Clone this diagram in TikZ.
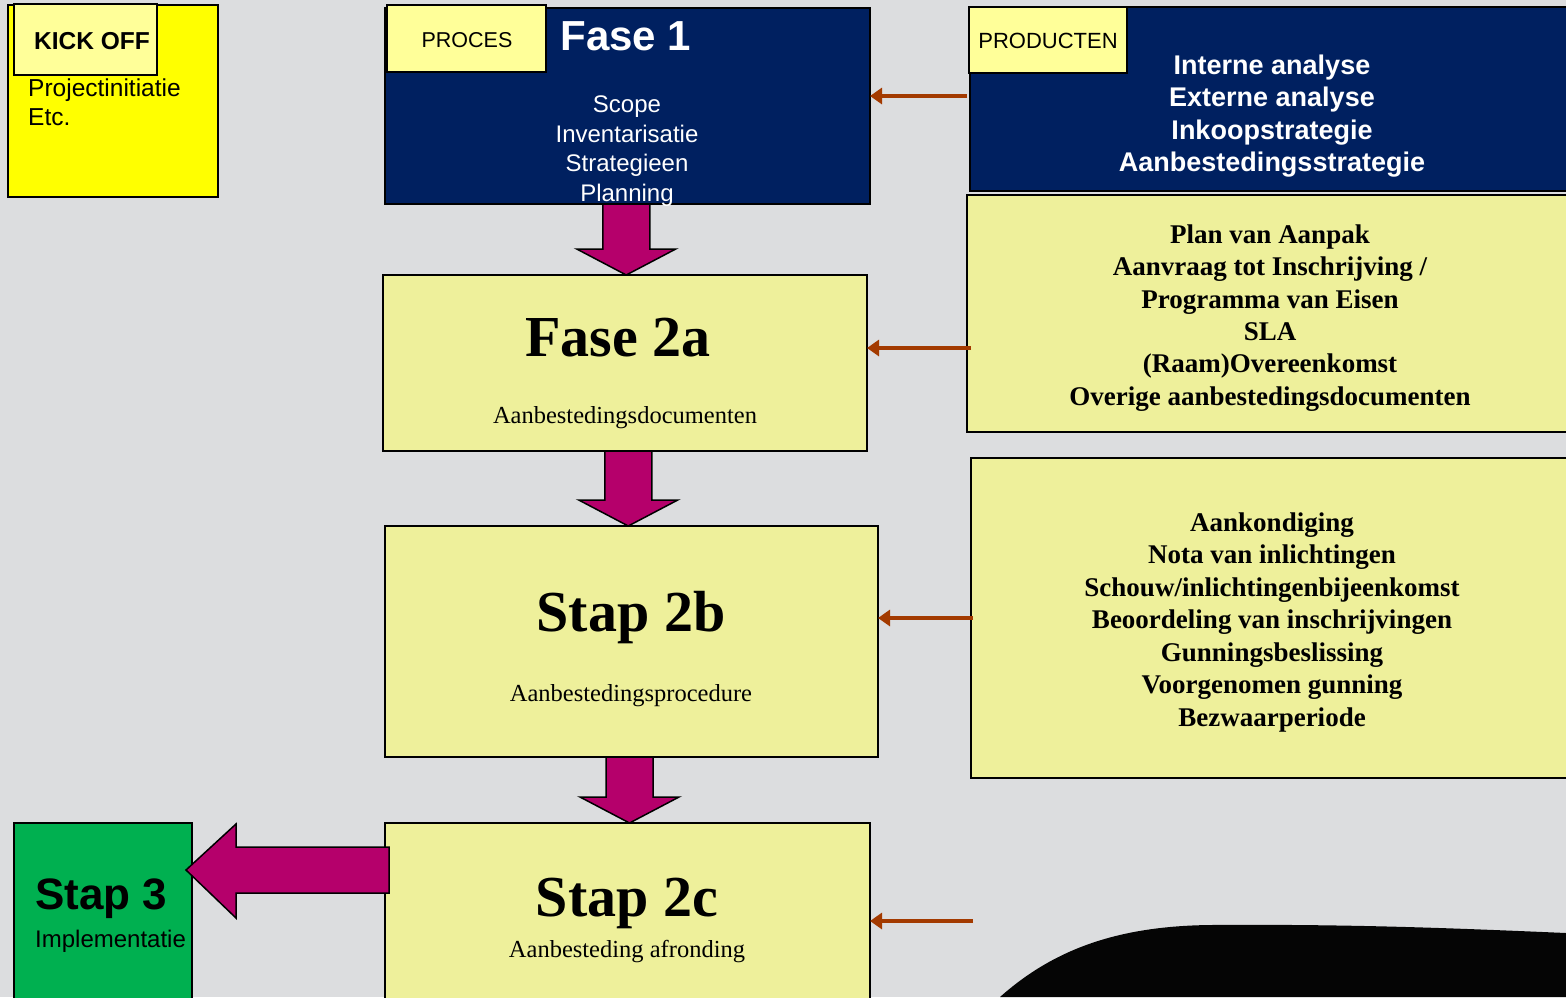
\documentclass[tikz,border=0pt]{standalone}
\usepackage{fontspec}
\setmainfont{Liberation Serif}
\setsansfont{Liberation Sans}
\usepackage{tikz}
\usetikzlibrary{calc}
\usetikzlibrary{arrows.meta}

\definecolor{navy}{RGB}{0,32,96}
\definecolor{tagyellow}{RGB}{255,255,153}
\definecolor{kickyellow}{RGB}{255,255,0}
\definecolor{paleyellow}{RGB}{238,240,155}
\definecolor{flowmagenta}{RGB}{181,0,107}
\definecolor{feedbrown}{RGB}{163,58,0}
\definecolor{stapgreen}{RGB}{0,176,80}
\definecolor{canvas}{RGB}{220,221,223}

\begin{document}
\begin{tikzpicture}[x=1pt,y=-1pt,
    box/.style={draw=black,line width=1.5pt,inner sep=0pt,outer sep=0pt,anchor=north west},
    tag/.style={box,fill=tagyellow},
    flow/.style={draw=black,line width=1.5pt,fill=flowmagenta,line join=miter},
    feed/.style={draw=feedbrown,line width=4pt,-{Triangle[length=12pt,width=16pt]}},
    arial/.style={font=\sffamily\fontsize{#1}{#1}\selectfont},
    times/.style={font=\rmfamily\fontsize{#1}{#1}\selectfont}]
    \useasboundingbox (0,0) rectangle (1566,997);
    \clip (0,0) rectangle (1566,997);
    \fill[canvas] (0,0) rectangle (1566,997);

    % linker kolom
    \node[box,fill=kickyellow,minimum width=210,minimum height=192] (kickoff) at (8,5) {};
    \node[tag,minimum width=143,minimum height=71] (kicktag) at (14,4) {};
    \node[font=\sffamily\bfseries\fontsize{24.5}{29}\selectfont] (kicktxt) at (92,41) {KICK OFF};
    \node[anchor=north west,inner sep=0pt,align=left,font=\sffamily\fontsize{24.5}{29}\selectfont] (kickbody) at (28,79) {Projectinitiatie\\Etc.};

    % proces
    \node[box,fill=navy,minimum width=485,minimum height=196] (fase1) at (385,8) {};
    \node[box,fill=paleyellow,minimum width=484,minimum height=176] (fase2a) at (383,275) {};
    \node[box,fill=paleyellow,minimum width=493,minimum height=231] (stap2b) at (385,526) {};
    \node[box,fill=paleyellow,minimum width=485,minimum height=200] (stap2c) at (385,823) {};
    \node[box,fill=stapgreen,minimum width=178,minimum height=200] (stap3) at (14,823) {};

    \foreach \a/\b in {fase1/fase2a,fase2a/stap2b,stap2b/stap2c}{
        \coordinate (m) at ($(\a.south)!0.5!(\b.north)$);
        \coordinate (top) at (m |- \a.south);
        \coordinate (tip) at (m |- \b.north);
        \draw[flow] ($(top)+(-23.5,0)$) -- ($(tip)+(-23.5,-26)$)
            -- ($(tip)+(-49.5,-26)$) -- (tip) -- ($(tip)+(49.5,-26)$)
            -- ($(tip)+(23.5,-26)$) -- ($(top)+(23.5,0)$) -- cycle;
    }
    \draw[flow] ($(stap2c.north west)+(4,24)$) -- ($(stap3.north east)+(44,24)$)
        -- ($(stap3.north east)+(44,1)$) -- ($(stap3.north east)+(-6,47)$)
        -- ($(stap3.north east)+(44,95)$) -- ($(stap3.north east)+(44,70)$)
        -- ($(stap2c.north west)+(4,70)$) -- cycle;

    \node[tag,minimum width=159,minimum height=67] (procestag) at (387,5) {};
    \node[arial=21.5] (procestxt) at (467,40) {PROCES};
    \node[font=\sffamily\bfseries\fontsize{42}{50}\selectfont,text=white] (fase1titel) at (626,36) {Fase 1};
    \node[font=\sffamily\fontsize{24}{29.5}\selectfont,text=white,align=center] (fase1body) at (627,151) {Scope\\Inventarisatie\\Strategieen\\Planning};

    \node[font=\rmfamily\bfseries\fontsize{58}{60}\selectfont] (fase2atitel) at (618,338) {Fase 2a};
    \node[times=24.5] (fase2abody) at (625,418) {Aanbestedingsdocumenten};
    \node[font=\rmfamily\bfseries\fontsize{58}{60}\selectfont] (stap2btitel) at (631,618) {Stap 2b};
    \node[times=24.5] (stap2bbody) at (631,696) {Aanbestedingsprocedure};
    \node[font=\rmfamily\bfseries\fontsize{58}{60}\selectfont] (stap2ctitel) at (627,903) {Stap 2c};
    \node[times=24.5] (stap2cbody) at (627,952) {Aanbesteding afronding};

    \node[font=\sffamily\bfseries\fontsize{44}{50}\selectfont,anchor=west,inner sep=0pt] (stap3titel) at (35,899) {Stap 3};
    \node[arial=24,anchor=west,inner sep=0pt] (stap3body) at (35,941) {Implementatie};

    % producten
    \node[box,fill=navy,minimum width=610,minimum height=184] (producten) at (970,7) {};
    \node[tag,minimum width=158,minimum height=66] (prodtag) at (969,7) {};
    \node[arial=22] (prodtxt) at (1048,41) {PRODUCTEN};
    \node[font=\sffamily\bfseries\fontsize{27}{32.5}\selectfont,text=white,align=center] (prodbody) at (1272,116) {Interne analyse\\Externe analyse\\Inkoopstrategie\\Aanbestedingsstrategie};

    \node[box,fill=paleyellow,minimum width=610,minimum height=237] (docs) at (967,195) {};
    \node[font=\rmfamily\bfseries\fontsize{27}{32.4}\selectfont,align=center] (docsbody) at (1270,318) {Plan van Aanpak\\Aanvraag tot Inschrijving /\\Programma van Eisen\\SLA\\(Raam)Overeenkomst\\Overige aanbestedingsdocumenten};

    \node[box,fill=paleyellow,minimum width=610,minimum height=320] (procedure) at (971,458) {};
    \node[font=\rmfamily\bfseries\fontsize{27}{32.5}\selectfont,align=center] (procbody) at (1272,622) {Aankondiging\\Nota van inlichtingen\\Schouw/inlichtingenbijeenkomst\\Beoordeling van inschrijvingen\\Gunningsbeslissing\\Voorgenomen gunning\\Bezwaarperiode};

    % terugkoppeling
    \coordinate (f1) at (967,96);
    \coordinate (f2) at (971,348);
    \coordinate (f3) at (973,618);
    \coordinate (f4) at (973,921);
    \draw[feed] (f1) -- (f1 -| fase1.east);
    \draw[feed] (f2) -- (f2 -| fase2a.east);
    \draw[feed] (f3) -- (f3 -| stap2b.east);
    \draw[feed] (f4) -- (f4 -| stap2c.east);

    \fill[black!98] (1000,997) .. controls (1055,948) and (1120,926) .. (1210,925)
        .. controls (1350,924) and (1450,928) .. (1566,933) -- (1566,997) -- cycle;
\end{tikzpicture}
\end{document}
